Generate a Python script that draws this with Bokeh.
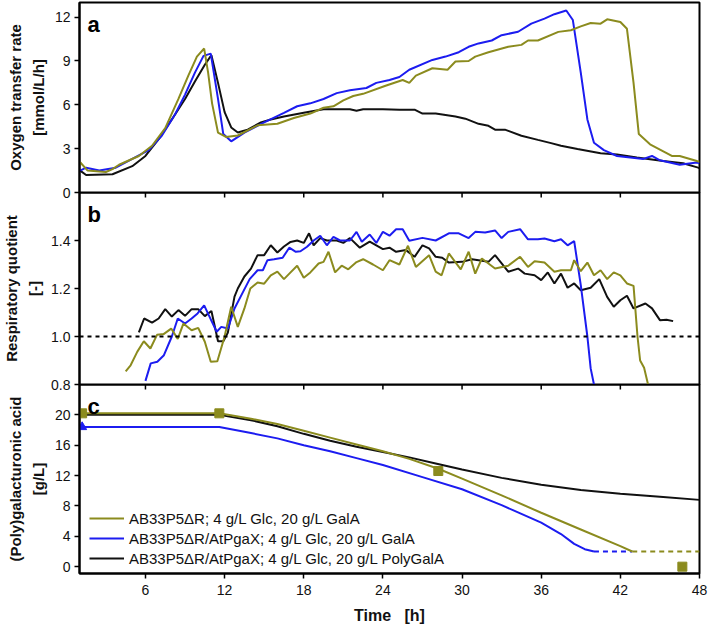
import math
from bokeh.plotting import figure
from bokeh.layouts import column
from bokeh.models import (Range1d, FixedTicker, Label, Legend,
                          LegendItem, Span, NumeralTickFormatter)
from bokeh.embed import file_html
from bokeh.resources import INLINE

FONT = "Liberation Sans"
OLIVE = "#8b8b1e"
BLUE = "#1c1cf0"
BLACK = "#111111"

# ---------------- data ----------------
x_ticks = [6, 12, 18, 24, 30, 36, 42, 48]

# (a) Oxygen transfer rate [mmol/L/h]
otr_olive_t = [1.05, 1.6, 3.0, 3.5, 4.0, 5.5, 6.5, 7.5, 8.5, 9.25, 9.9, 10.45, 10.75, 11.05, 11.5,
               12.1, 13.0, 14.5, 16.0, 17.25, 18.5, 19.5, 20.25, 21.0, 21.75, 22.5, 24.2, 25.5,
               26.0, 26.5, 27.75, 28.9, 29.5, 30.5, 31.0, 32.0, 33.5, 34.5, 35.0, 35.75, 37.3,
               38.25, 39.0, 39.75, 40.5, 41.0, 42.0, 42.5, 43.0, 43.4, 44.25, 45.4, 45.9, 46.5,
               47.8, 48.0]
otr_olive = [2.07, 1.51, 1.4, 1.6, 1.9, 2.5, 3.2, 4.4, 6.4, 8.0, 9.3, 9.85, 8.2, 6.1, 4.1,
             3.8, 3.9, 4.6, 4.7, 5.1, 5.4, 5.8, 5.9, 6.3, 6.6, 6.75, 7.3, 7.7,
             7.5, 8.0, 8.5, 8.4, 8.96, 9.0, 9.3, 9.6, 9.97, 10.1, 10.4, 10.4, 10.99,
             11.1, 11.37, 11.6, 11.55, 11.85, 11.67, 11.2, 7.5, 4.0, 3.3, 2.75, 2.5, 2.5,
             2.15, 2.1]

otr_blue_t = [1.05, 1.5, 2.5, 3.75, 5.0, 6.25, 7.25, 8.25, 9.0, 9.75, 10.4, 10.95, 11.5, 11.9,
              12.5, 13.5, 15.0, 16.5, 17.5, 18.5, 19.5, 20.5, 21.5, 22.75, 23.5, 24.5, 25.25,
              26.0, 27.75, 28.75, 29.75, 30.5, 31.25, 32.25, 33.0, 34.25, 35.25, 36.25, 37.0,
              37.9, 38.4, 39.0, 39.5, 40.0, 40.75, 41.75, 42.75, 43.75, 44.4, 45.0, 46.5, 47.8,
              48.0]
otr_blue = [1.5, 1.7, 1.5, 1.7, 2.3, 2.9, 3.9, 5.35, 6.7, 8.2, 9.35, 9.5, 6.4, 4.0,
            3.5, 4.1, 4.8, 5.45, 5.9, 6.1, 6.4, 6.8, 7.0, 7.15, 7.5, 7.7, 7.9,
            8.4, 9.07, 9.3, 9.6, 9.97, 10.2, 10.4, 10.76, 11.0, 11.55, 11.9, 12.2,
            12.45, 11.8, 8.2, 5.0, 3.4, 2.9, 2.5, 2.4, 2.3, 2.5, 2.2, 1.9, 2.05,
            2.0]

otr_black_t = [1.05, 1.5, 3.5, 5.0, 6.0, 7.0, 8.0, 9.0, 9.75, 10.5, 11.0, 11.5, 12.0, 12.5,
               13.0, 13.75, 14.75, 15.5, 16.5, 18.0, 19.5, 20.5, 21.5, 22.0, 22.5, 24.0, 25.25,
               26.4, 27.0, 28.0, 29.5, 30.25, 31.25, 32.0, 32.5, 33.25, 34.5, 35.75, 36.75,
               37.5, 38.75, 40.5, 41.75, 43.25, 45.25, 46.75, 47.9, 48.0]
otr_black = [1.5, 1.2, 1.25, 1.8, 2.5, 3.65, 5.0, 6.4, 7.6, 8.74, 9.4, 7.5, 5.5, 4.45,
             4.1, 4.3, 4.8, 5.0, 5.2, 5.45, 5.7, 5.7, 5.7, 5.6, 5.7, 5.7, 5.67,
             5.67, 5.4, 5.4, 5.2, 5.05, 4.7, 4.56, 4.3, 4.3, 3.88, 3.6, 3.38,
             3.2, 2.97, 2.68, 2.6, 2.4, 2.15, 2.0, 1.7, 1.68]

# (b) Respiratory quotient [-]
rq_ref = 1.0
rq_olive_t = [4.5, 4.875, 5.375, 5.875, 6.375, 6.875, 7.375, 7.95, 8.45, 8.875, 9.5, 10.0,
              10.5, 10.95, 11.45, 12.0, 12.5, 13.0, 13.5, 13.95, 14.5, 15.0, 15.5, 16.0, 16.5,
              17.0, 17.5, 18.0, 18.5, 19.125, 19.5, 19.875, 20.375, 20.875, 21.375, 22.0, 22.5,
              23.25, 24.0, 24.5, 25.25, 25.9, 26.5, 27.5, 28.0, 28.45, 29.0, 29.9, 30.5, 31.0,
              31.5, 32.5, 33.5, 34.4, 35.0, 35.5, 36.25, 37.0, 37.5, 38.25, 38.5, 39.0, 39.5,
              40.0, 40.5, 41.0, 41.5, 42.0, 42.5, 43.0, 43.3, 43.5, 43.8, 44.1]
rq_olive = [0.855, 0.88, 0.936, 0.98, 0.95, 1.007, 1.01, 1.033, 0.99, 1.054, 1.026, 1.036,
            0.978, 0.895, 0.897, 1.0, 1.124, 1.04, 1.117, 1.2, 1.225, 1.22, 1.255, 1.27, 1.239,
            1.267, 1.295, 1.245, 1.267, 1.304, 1.311, 1.353, 1.267, 1.295, 1.28, 1.31, 1.322,
            1.30, 1.276, 1.318, 1.30, 1.378, 1.29, 1.339, 1.27, 1.255, 1.346, 1.28, 1.353, 1.262,
            1.325, 1.283, 1.295, 1.332, 1.29, 1.314, 1.308, 1.27, 1.276, 1.276, 1.318, 1.272, 1.308,
            1.255, 1.276, 1.239, 1.267, 1.255, 1.221, 1.211, 1.0, 0.9, 0.87, 0.80]

rq_blue_t = [6.0, 6.4, 6.9, 7.4, 8.0, 8.45, 9.0, 9.5, 9.95, 10.45, 10.8, 11.4, 11.75, 12.25,
             12.75, 13.4, 13.9, 14.5, 14.9, 15.25, 15.75, 16.4, 16.9, 17.4, 17.75, 18.25, 18.75,
             19.25, 19.75, 20.25, 20.75, 21.5, 22.0, 22.4, 23.0, 23.5, 24.0, 24.5, 25.0, 25.5,
             26.0, 27.0, 28.0, 29.0, 29.75, 30.5, 31.0, 31.75, 32.5, 33.0, 33.5, 34.4, 35.0,
             35.75, 36.25, 37.0, 37.5, 38.0, 38.5, 39.0, 39.5, 39.75, 40.0]
rq_blue = [0.815, 0.888, 0.895, 0.922, 1.0, 1.075, 1.054, 1.075, 1.096, 1.13, 1.089, 1.02, 1.04,
           1.033, 1.117, 1.186, 1.239, 1.276, 1.276, 1.318, 1.322, 1.328, 1.37, 1.353, 1.355,
           1.374, 1.40, 1.42, 1.38, 1.415, 1.40, 1.40, 1.436, 1.395, 1.425, 1.39, 1.436, 1.42,
           1.447, 1.447, 1.399, 1.411, 1.40, 1.43, 1.43, 1.41, 1.436, 1.433, 1.442, 1.41, 1.436,
           1.447, 1.405, 1.405, 1.408, 1.397, 1.405, 1.38, 1.397, 1.214, 1.0, 0.867, 0.80]

rq_black_t = [5.5, 5.9, 6.5, 7.0, 7.5, 8.0, 8.5, 9.0, 9.5, 10.0, 10.5, 11.0, 11.5, 11.9, 12.25,
              12.75, 13.0, 13.5, 14.0, 14.5, 15.0, 15.5, 16.0, 16.5, 17.0, 17.5, 18.0, 18.4,
              18.75, 19.25, 19.75, 20.5, 21.0, 21.5, 22.25, 23.0, 24.0, 24.5, 25.0, 25.75, 26.4,
              27.0, 27.5, 28.0, 28.5, 29.0, 30.0, 30.75, 32.0, 32.5, 33.5, 34.25, 34.75, 35.5,
              36.0, 36.5, 37.0, 37.5, 38.0, 38.5, 39.0, 39.75, 40.4, 41.0, 41.5, 42.0, 42.5,
              43.0, 43.9, 44.4, 45.0, 45.5, 46.0]
rq_black = [1.017, 1.075, 1.058, 1.075, 1.114, 1.083, 1.11, 1.086, 1.114, 1.114, 1.085, 1.106,
            0.98, 0.98, 1.017, 1.166, 1.2, 1.25, 1.283, 1.339, 1.339, 1.38, 1.35, 1.375, 1.394,
            1.40, 1.39, 1.43, 1.38, 1.41, 1.40, 1.40, 1.39, 1.41, 1.37, 1.395, 1.364, 1.37,
            1.353, 1.36, 1.332, 1.38, 1.367, 1.332, 1.328, 1.308, 1.311, 1.322, 1.311, 1.339,
            1.27, 1.283, 1.262, 1.255, 1.235, 1.267, 1.221, 1.262, 1.203, 1.221, 1.193, 1.203,
            1.239, 1.165, 1.124, 1.151, 1.17, 1.117, 1.1375, 1.117, 1.068, 1.07, 1.064]

# (c) (Poly)galacturonic acid [g/L]
ga_olive_t = [1.0, 11.6, 14.0, 16.0, 18.0, 20.0, 22.0, 24.0, 26.0, 28.2, 30.0, 33.0, 36.0,
              39.0, 42.0, 42.9]
ga_olive = [20.2, 20.2, 19.5, 18.8, 17.9, 17.0, 16.1, 15.2, 14.2, 12.9, 11.6, 9.4, 7.1,
            4.9, 2.7, 2.0]
ga_blue_t = [1.0, 11.6, 14.0, 16.0, 18.0, 20.0, 22.0, 24.0, 27.0, 30.0, 33.0, 36.0, 37.5,
             38.5, 39.3, 40.0]
ga_blue = [18.4, 18.4, 17.6, 16.9, 16.0, 15.2, 14.3, 13.4, 11.8, 10.2, 8.1, 5.8, 4.3,
           3.0, 2.3, 2.0]
ga_black_t = [1.0, 11.6, 14.0, 16.0, 18.0, 20.0, 22.0, 24.0, 26.0, 28.0, 30.0, 33.0, 36.0,
              39.0, 42.0, 45.0, 48.0]
ga_black = [20.0, 20.0, 19.3, 18.5, 17.5, 16.6, 15.8, 15.1, 14.4, 13.6, 12.8, 11.7, 10.8,
            10.1, 9.6, 9.2, 8.8]
ga_blue_dash_t = [40.0, 42.9]
ga_blue_dash = [2.0, 2.0]
ga_olive_dash_t = [42.9, 48.0]
ga_olive_dash = [2.0, 2.0]
# measured samples
ga_olive_meas_t = [1.2, 11.6, 28.2, 46.7]
ga_olive_meas = [20.2, 20.2, 12.6, 0.0]
ga_blue_meas_t = [1.2]
ga_blue_meas = [18.4]

legend_labels = ["AB33P5\u0394R; 4 g/L Glc, 20 g/L GalA",
                 "AB33P5\u0394R/AtPgaX; 4 g/L Glc, 20 g/L GalA",
                 "AB33P5\u0394R/AtPgaX; 4 g/L Glc, 20 g/L PolyGalA"]

# ---------------- layout ----------------
W = 708
LEFT = 73
RIGHT = 9
OVER = 10          # bottom strip of a panel that the next panel overlaps
x_range = Range1d(1, 48)


def make_panel(height, yr, yticks, ylabel, letter, top, bottom, xloc, fmt=None, overlap=False):
    kw = {}
    if overlap:
        kw["margin"] = (-OVER, 0, 0, 0)
    p = figure(width=W, height=height, x_range=x_range, y_range=Range1d(*yr),
               output_backend="svg", toolbar_location=None,
               min_border_left=LEFT, min_border_right=RIGHT,
               min_border_top=top, min_border_bottom=bottom,
               x_axis_location=xloc, **kw)
    p.grid.visible = False
    p.outline_line_color = "black"
    p.outline_line_width = 2
    p.outline_line_alpha = 1
    if overlap:
        p.background_fill_alpha = 0
        p.border_fill_alpha = 0
    else:
        p.background_fill_color = "white"
        p.border_fill_color = "white"
    ya = p.yaxis[0]
    ya.ticker = FixedTicker(ticks=yticks)
    if fmt:
        ya.formatter = NumeralTickFormatter(format=fmt)
    ya.axis_label = ylabel
    ya.axis_label_text_font = FONT
    ya.axis_label_text_font_style = "bold"
    ya.axis_label_text_font_size = "15px"
    ya.axis_label_text_line_height = 1.35
    ya.axis_label_text_color = "#111111"
    ya.axis_label_standoff = 5
    ya.major_label_standoff = 4
    ya.major_label_text_font = FONT
    ya.major_label_text_font_size = "14px"
    ya.major_label_text_color = "#111111"
    ya.major_tick_out = 5
    ya.major_tick_in = 0
    ya.major_tick_line_width = 1.5
    ya.minor_tick_line_color = None
    ya.axis_line_width = 2
    lab = Label(x=1.0, y=yr[1], x_offset=8, y_offset=-22, text=letter,
                text_font=FONT, text_font_style="bold", text_font_size="22px",
                text_color="black", text_baseline="alphabetic")
    p.add_layout(lab)
    if overlap:
        # x-axis ticks of the panel above, pointing down into this panel
        p.scatter(x_ticks[:-1], [yr[1]] * (len(x_ticks) - 1), marker="dash",
                  angle=math.pi / 2, size=10, line_color="black", line_width=1.5)
    return p


# panel a
pa = make_panel(2 + 190 + OVER, (0, 13), [0, 3, 6, 9, 12],
                "Oxygen transfer rate\n[mmol/L/h]", "a", 2, OVER, None)
pa.line(otr_black_t, otr_black, line_color=BLACK, line_width=2)
pa.line(otr_blue_t, otr_blue, line_color=BLUE, line_width=2)
pa.line(otr_olive_t, otr_olive, line_color=OLIVE, line_width=2)

# panel b
pb = make_panel(192 + OVER, (0.8, 1.6), [0.8, 1.0, 1.2, 1.4],
                "Respiratory quotient\n[-]", "b", 0, OVER, None, fmt="0.0", overlap=True)
pb.add_layout(Span(location=rq_ref, dimension="width", line_color="black",
                   line_width=2, line_dash="4 4"))
pb.line(rq_black_t, rq_black, line_color=BLACK, line_width=2)
pb.line(rq_blue_t, rq_blue, line_color=BLUE, line_width=2)
pb.line(rq_olive_t, rq_olive, line_color=OLIVE, line_width=2)

# panel c
pc = make_panel(190 + 52, (-0.9, 24), [0, 4, 8, 12, 16, 20],
                "(Poly)galacturonic acid\n[g/L]", "c", 0, 52, "below", overlap=True)
xa = pc.below[0]
xa.ticker = FixedTicker(ticks=x_ticks)
xa.major_tick_out = 5
xa.major_tick_in = 0
xa.major_tick_line_width = 1.5
xa.minor_tick_line_color = None
xa.axis_line_width = 2
xa.major_label_text_font = FONT
xa.major_label_text_font_size = "14px"
xa.major_label_text_color = "#111111"
xa.major_label_standoff = 6
xa.axis_label = "Time\u00a0\u00a0\u00a0[h]"
xa.axis_label_text_font = FONT
xa.axis_label_text_font_style = "bold"
xa.axis_label_text_font_size = "16px"
xa.axis_label_text_color = "#111111"
xa.axis_label_standoff = 9

pc.line(ga_blue_dash_t, ga_blue_dash, line_color=BLUE, line_width=2, line_dash="5 4")
pc.line(ga_olive_dash_t, ga_olive_dash, line_color=OLIVE, line_width=2, line_dash="5 4")
r_black = pc.line(ga_black_t, ga_black, line_color=BLACK, line_width=2)
r_blue = pc.line(ga_blue_t, ga_blue, line_color=BLUE, line_width=2)
r_olive = pc.line(ga_olive_t, ga_olive, line_color=OLIVE, line_width=2)
pc.scatter(ga_olive_meas_t, ga_olive_meas, marker="square", size=9,
           fill_color=OLIVE, line_color=OLIVE)
pc.scatter(ga_blue_meas_t, ga_blue_meas, marker="triangle", size=9,
           fill_color=BLUE, line_color=BLUE)

legend = Legend(items=[LegendItem(label=legend_labels[0], renderers=[r_olive]),
                       LegendItem(label=legend_labels[1], renderers=[r_blue]),
                       LegendItem(label=legend_labels[2], renderers=[r_black])],
                location=(10, 5), orientation="vertical",
                padding=0, margin=0, spacing=0,
                glyph_width=35, glyph_height=20, label_height=20, label_standoff=5,
                label_text_font=FONT, label_text_font_size="15px",
                label_text_color="#111111",
                background_fill_alpha=0, border_line_alpha=0)
pc.add_layout(legend)

layout = column(pa, pb, pc, spacing=0)
open("out.html", "w").write(file_html(layout, INLINE))
